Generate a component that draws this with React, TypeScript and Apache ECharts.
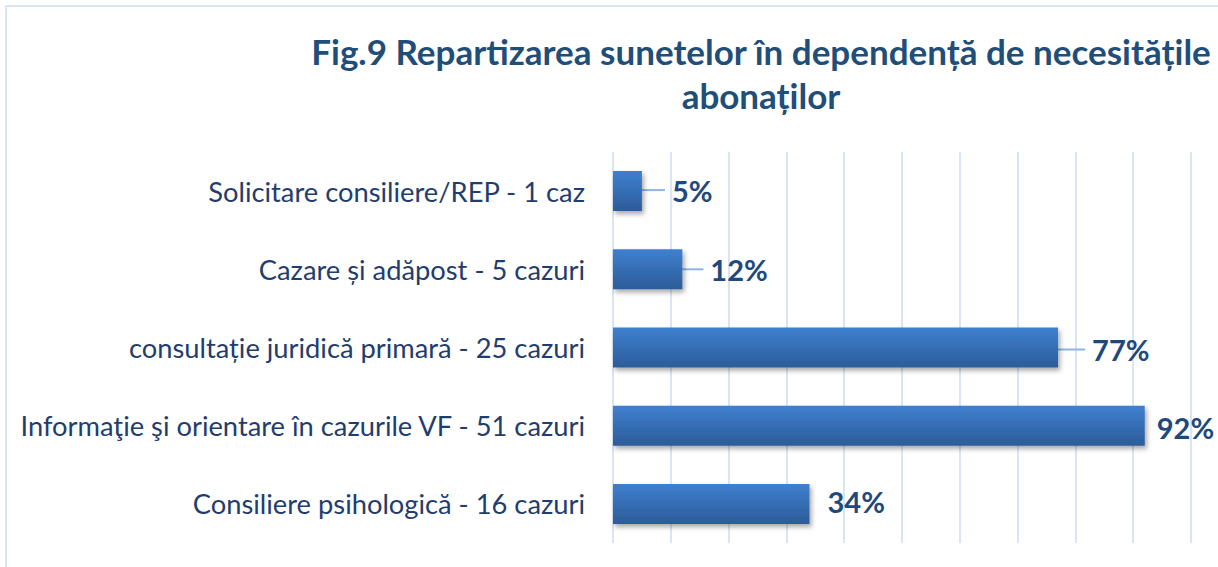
import React, { useEffect, useRef } from "react";
import * as echarts from "echarts";

const categories = [
  "Solicitare consiliere/REP - 1 caz",
  "Cazare și adăpost - 5 cazuri",
  "consultație juridică primară - 25 cazuri",
  "Informaţie şi orientare în cazurile VF - 51 cazuri",
  "Consiliere psihologică - 16 cazuri",
];
const percentValues = [5, 12, 77, 92, 34];
const titleLines = ["Fig.9 Repartizarea sunetelor în dependență de necesitățile", "abonaților"];

// label placement tweaks (layout only)
const labelDx = [18, 16, 22, 0, 0];
const labelDy = [-1, 0, 2, 2, -2];
const labelDistance = [5, 5, 5, 5, 11];
const showLeader = [true, true, true, false, false];

export default function App() {
  const ref = useRef<HTMLDivElement>(null);
  useEffect(() => {
    document.body.style.margin = "0";
    const chart = echarts.init(ref.current!, null, { renderer: "svg" });
    const font = "Lato, 'Noto Sans', sans-serif";
    chart.setOption({
      animation: false,
      backgroundColor: "#ffffff",
      graphic: [
        {
          type: "rect",
          x: 6,
          y: 6,
          shape: { x: 0, y: 0, width: 1240, height: 600 },
          style: { fill: "none", stroke: "#d9e5f3", lineWidth: 2 },
          silent: true,
        },
        {
          type: "text",
          x: 761,
          y: 29,
          style: {
            text: titleLines.join("\n"),
            align: "center",
            verticalAlign: "top",
            fontFamily: font,
            fontWeight: "bold",
            fontSize: 35,
            lineHeight: 44,
            fill: "#1F4E79",
          },
        },
      ],
      grid: { left: 613, right: 27, top: 152, bottom: 24, containLabel: false },
      xAxis: {
        type: "value",
        min: 0,
        max: 100,
        interval: 10,
        axisLabel: { show: false },
        axisLine: { show: false },
        axisTick: { show: false },
        splitLine: { show: true, lineStyle: { color: "#d8e5f5", width: 2 } },
      },
      yAxis: {
        type: "category",
        inverse: true,
        data: categories,
        axisLine: { show: false },
        axisTick: { show: false },
        axisLabel: {
          margin: 28,
          color: "#1F3D6E",
          fontFamily: font,
          fontSize: 27.3,
        },
      },
      series: [
        {
          type: "bar",
          barWidth: 40,
          data: percentValues.map((v, i) => ({
            value: v,
            label: { distance: labelDistance[i] },
            labelLine: { show: showLeader[i] },
          })),
          itemStyle: {
            color: new echarts.graphic.LinearGradient(0, 0, 0, 1, [
              { offset: 0, color: "#3F80CF" },
              { offset: 1, color: "#2C5C99" },
            ]),
            shadowColor: "rgba(0,0,0,0.35)",
            shadowBlur: 5,
            shadowOffsetX: 2,
            shadowOffsetY: 3,
          },
          label: {
            show: true,
            position: "right",
            formatter: "{c}%",
            padding: [0, 0, 0, 7],
            backgroundColor: "rgba(255,255,255,0.001)",
            color: "#1F497D",
            fontFamily: font,
            fontWeight: "bold",
            fontSize: 29,
          },
          labelLine: {
            show: false,
            lineStyle: { color: "#8EB4E3", width: 2 },
          },
          labelLayout: (params: any) => ({
            dx: labelDx[params.dataIndex],
            dy: labelDy[params.dataIndex],
          }),
        },
      ],
    });
    return () => chart.dispose();
  }, []);
  return (
    <div
      ref={ref}
      style={{ position: "absolute", left: 0, top: 0, width: 1218, height: 567 }}
    />
  );
}
